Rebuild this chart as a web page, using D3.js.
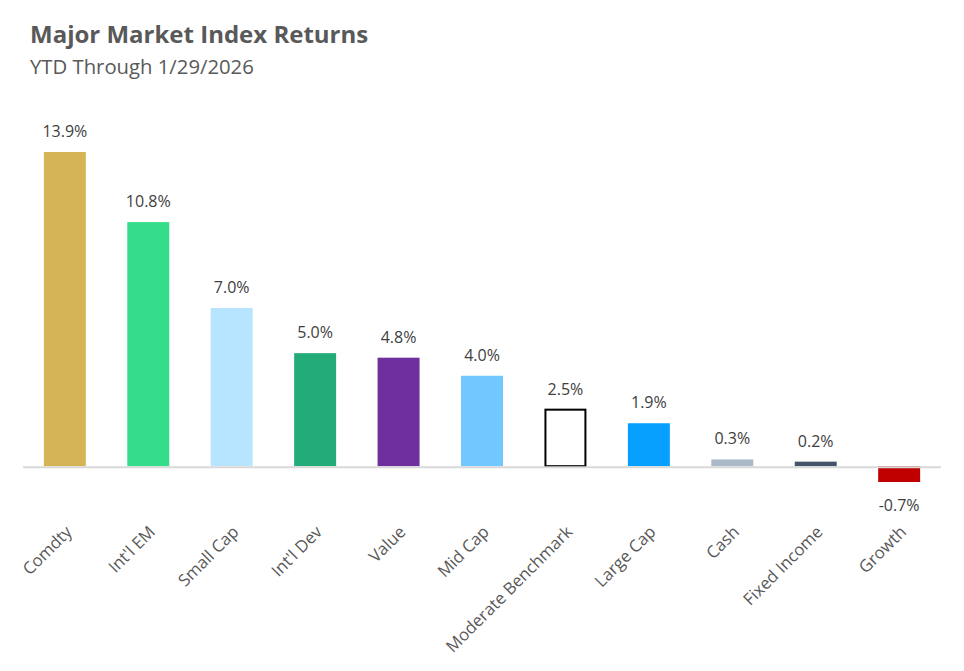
<!DOCTYPE html>
<html><head><meta charset="utf-8">
<script src="https://cdn.jsdelivr.net/npm/d3@7"></script>
<style>body{margin:0;background:#fff}svg{display:block}</style>
</head><body>
<svg id="c" width="964" height="671"></svg>
<script>
const categories = ["Comdty","Int'l EM","Small Cap","Int'l Dev","Value","Mid Cap","Moderate Benchmark","Large Cap","Cash","Fixed Income","Growth"];
const values = [13.9,10.8,7.0,5.0,4.8,4.0,2.5,1.9,0.3,0.2,-0.7];
const colors = ["#D4B455","#35DD8A","#B7E4FE","#23AB78","#6F2F9F","#71C7FF","#FFFFFF","#07A0FF","#ACB9C9","#44546A","#C00000"];
const title = "Major Market Index Returns";
const subtitle = "YTD Through 1/29/2026";

const svg = d3.select("#c");
const font = "'Open Sans', sans-serif";
const x = d3.scaleBand().domain(categories).range([23, 941]).paddingInner(0.497).paddingOuter(0.25);
const y = d3.scaleLinear().domain([-0.7, 13.9]).range([482, 152]);

svg.append("text").attr("x",30).attr("y",43).text(title)
  .attr("font-family",font).attr("font-weight","bold").attr("font-size",24).attr("fill","#595959");
svg.append("text").attr("x",30).attr("y",74).text(subtitle)
  .attr("font-family",font).attr("font-size",20.3).attr("fill","#595959");

const data = categories.map((c,i)=>({c,v:values[i],col:colors[i]}));
const bw = x.bandwidth();
svg.selectAll("rect.bar").data(data).enter().append("rect").attr("class","bar")
  .attr("x",d=>x(d.c)+(d.c==="Moderate Benchmark"?1:0))
  .attr("width",d=>bw-(d.c==="Moderate Benchmark"?2:0))
  .attr("y",d=>Math.min(y(d.v),y(0)))
  .attr("height",d=>Math.abs(y(d.v)-y(0)))
  .attr("fill",d=>d.col)
  .attr("stroke",d=>d.c==="Moderate Benchmark"?"#000":"none")
  .attr("stroke-width",2);

svg.append("line").attr("x1",23).attr("x2",941).attr("y1",y(0)+1).attr("y2",y(0)+1)
  .attr("stroke","#D9D9D9").attr("stroke-width",2);

svg.selectAll("text.val").data(data).enter().append("text").attr("class","val")
  .attr("x",d=>x(d.c)+bw/2)
  .attr("y",d=>d.v>=0? y(d.v)-15 : y(d.v)+29)
  .attr("text-anchor","middle").attr("font-family",font).attr("font-size",16).attr("fill","#404040")
  .text(d=>d.v.toFixed(1)+"%");

svg.selectAll("text.cat").data(data).enter().append("text").attr("class","cat")
  .attr("transform",d=>`translate(${x(d.c)+bw/2+8},${533}) rotate(-45)`)
  .attr("text-anchor","end").attr("font-family",font).attr("font-size",16.8).attr("fill","#595959")
  .text(d=>d.c);
</script>
</body></html>
